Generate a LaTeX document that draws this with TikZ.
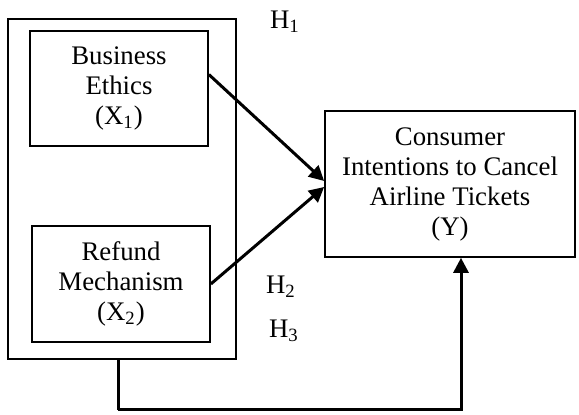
\documentclass[tikz,border=0pt]{standalone}
\usepackage{fontspec}
\setmainfont{Liberation Serif}
\usepackage{tikz}
\usetikzlibrary{arrows.meta}

\begin{document}
\begin{tikzpicture}[x=0.5pt, y=-0.5pt,
  font=\fontsize{13.4}{15}\selectfont,
  box/.style={draw, line width=0.85pt, align=center, inner sep=0pt},
  arr/.style={line width=1.5pt, -{Triangle[length=7.5pt, width=7.5pt]}},
  hyp/.style={inner sep=0pt}]
\useasboundingbox (0,0) rectangle (579,415);
% independent variables, grouped in one frame
\node[box, minimum width=114pt, minimum height=170pt] (group) at (122,189) {};
\node[box, minimum width=89pt, minimum height=57.5pt] (ethics) at (119,88.5)
  {Business\\Ethics\\(X\textsubscript{1})};
\node[box, minimum width=89pt, minimum height=58pt] (refund) at (121,284)
  {Refund\\Mechanism\\(X\textsubscript{2})};
% dependent variable
\node[box, minimum width=125pt, minimum height=73pt] (intent) at (450,184)
  {Consumer\\Intentions to Cancel\\Airline Tickets\\(Y)};
\coordinate (elbow) at (118,410);
\draw[arr] ([yshift=7pt]ethics.east) -- ([yshift=1.5pt]intent.west);
\draw[arr] (refund.east) -- ([yshift=-1.5pt]intent.west);
\draw[arr, -] (group.south -| elbow) -- (elbow);
\draw[arr] (elbow) -| ([xshift=5.5pt]intent.south);
\node[hyp] (h1) at (285,22) {H\textsubscript{1}};
\node[hyp] (h2) at (281,287) {H\textsubscript{2}};
\node[hyp] (h3) at (284,331) {H\textsubscript{3}};
\end{tikzpicture}
\end{document}
